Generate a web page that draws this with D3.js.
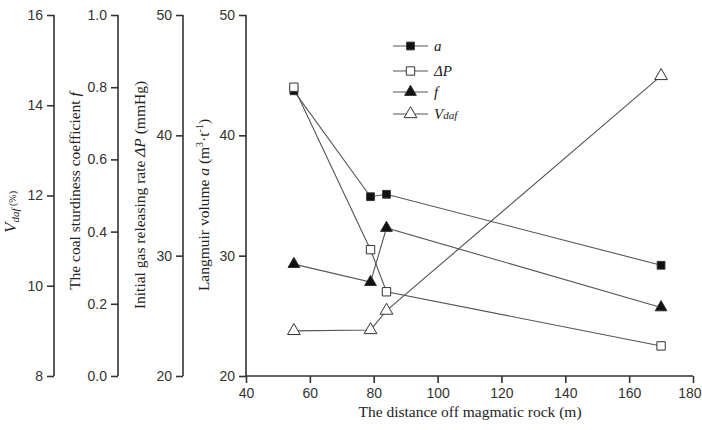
<!DOCTYPE html>
<html><head><meta charset="utf-8">
<script src="https://cdn.jsdelivr.net/npm/d3@7"></script>
<style>body{margin:0;background:#fff}svg{display:block}</style>
</head><body><svg id="c" width="702" height="430"></svg>
<script>
const distance = [55, 79, 84, 170];
const langmuirA = [43.7, 34.9, 35.1, 29.2];
const deltaP = [44.0, 30.5, 27.0, 22.5];
const sturdinessF = [0.31, 0.26, 0.41, 0.19];
const vdaf = [9.0, 9.02, 9.45, 14.65];
const xTicks = [40, 60, 80, 100, 120, 140, 160, 180];

const svg = d3.select("#c");
const yTop = 15, yBot = 376;
const x = d3.scaleLinear().domain([40, 180]).range([246, 693]);
const yA = d3.scaleLinear().domain([20, 50]).range([yBot, yTop]);
const yP = d3.scaleLinear().domain([20, 50]).range([yBot, yTop]);
const yF = d3.scaleLinear().domain([0, 1]).range([yBot, yTop]);
const yV = d3.scaleLinear().domain([8, 16]).range([yBot, yTop]);
const ink = "#333";
const tickFont = "Liberation Sans, Arial, sans-serif";
const serif = "Liberation Serif, Times New Roman, serif";

function yAxis(scale, xPos, major, minor, fmt) {
  const g = svg.append("g").attr("transform", `translate(${xPos},0)`);
  g.call(d3.axisLeft(scale).tickValues(minor).tickSize(3).tickFormat(""));
  g.call(d3.axisLeft(scale).tickValues(major).tickSize(7).tickPadding(4).tickFormat(fmt));
  g.selectAll(".domain").remove();
  g.append("line").attr("y1", yTop).attr("y2", yBot).attr("stroke", ink).attr("stroke-width", 1.6);
  g.selectAll("line").attr("stroke", ink).attr("stroke-width", 1.6);
  g.selectAll("text").attr("font-family", tickFont).attr("font-size", 14).attr("fill", "#333");
  return g;
}
yAxis(yV, 54, [8, 10, 12, 14, 16], [9, 11, 13, 15], d3.format("d"));
yAxis(yF, 118, [0, 0.2, 0.4, 0.6, 0.8, 1.0], [0.1, 0.3, 0.5, 0.7, 0.9], d3.format(".1f"));
yAxis(yP, 183, [20, 30, 40, 50], [25, 35, 45], d3.format("d"));
yAxis(yA, 246, [20, 30, 40, 50], [25, 35, 45], d3.format("d"));

// x axis
const gx = svg.append("g").attr("transform", `translate(0,${yBot})`);
gx.call(d3.axisBottom(x).tickValues(d3.range(50, 180, 20)).tickSize(3).tickFormat(""));
gx.call(d3.axisBottom(x).tickValues(xTicks).tickSize(7).tickPadding(5).tickFormat(d3.format("d")));
gx.selectAll(".domain").remove();
gx.append("line").attr("x1", 246).attr("x2", 693).attr("stroke", ink).attr("stroke-width", 1.6);
gx.selectAll("line").attr("stroke", ink).attr("stroke-width", 1.6);
gx.selectAll("text").attr("font-family", tickFont).attr("font-size", 14).attr("fill", "#333");
gx.selectAll(".tick text").filter(d => d === 180).attr("text-anchor", "end").attr("dx", 8);

// axis titles
function vTitle(xPos, yPos, build) {
  const t = svg.append("text").attr("transform", `translate(${xPos},${yPos}) rotate(-90)`)
    .attr("text-anchor", "middle").attr("font-family", serif).attr("font-size", 15.5).attr("fill", "#222");
  build(t);
}
vTitle(16, 212, t => {
  t.append("tspan").attr("font-style", "italic").attr("font-size", 17).text("V");
  t.append("tspan").attr("font-style", "italic").attr("font-size", 11).attr("dy", 3).text("daf");
  t.append("tspan").attr("font-size", 10).attr("dy", -3).text(" (%)");
});
vTitle(80, 191, t => {
  t.append("tspan").text("The coal sturdiness coefficient ");
  t.append("tspan").attr("font-style", "italic").text("f");
});
vTitle(145, 195, t => {
  t.append("tspan").text("Initial gas releasing rate ");
  t.append("tspan").attr("font-style", "italic").text("ΔP");
  t.append("tspan").text(" (mmHg)");
});
vTitle(209, 205, t => {
  t.append("tspan").text("Langmuir volume ");
  t.append("tspan").attr("font-style", "italic").text("a");
  t.append("tspan").text(" (m");
  t.append("tspan").attr("font-size", 10).attr("dy", -6).text("3");
  t.append("tspan").attr("dy", 6).text("·t");
  t.append("tspan").attr("font-size", 10).attr("dy", -6).text("-1");
  t.append("tspan").attr("dy", 6).text(")");
});
svg.append("text").attr("x", 470).attr("y", 417).attr("text-anchor", "middle")
  .attr("font-family", serif).attr("font-size", 15.5).attr("fill", "#222")
  .text("The distance off magmatic rock (m)");

// series
const series = [
  {name: "a", vals: langmuirA, y: yA, shape: d3.symbolSquare, fill: "#111", size: 60},
  {name: "ΔP", vals: deltaP, y: yP, shape: d3.symbolSquare, fill: "#fff", size: 70},
  {name: "f", vals: sturdinessF, y: yF, shape: d3.symbolTriangle, fill: "#111", size: 60},
  {name: "Vdaf", vals: vdaf, y: yV, shape: d3.symbolTriangle, fill: "#fff", size: 70}
];
const line = s => d3.line().x((d, i) => x(distance[i])).y(d => s.y(d));
series.forEach(s => {
  svg.append("path").datum(s.vals).attr("d", line(s)).attr("fill", "none")
    .attr("stroke", "#555").attr("stroke-width", 1.1);
});
series.forEach(s => {
  svg.selectAll(null).data(s.vals).enter().append("path")
    .attr("d", d3.symbol().type(s.shape).size(s.size))
    .attr("transform", (d, i) => `translate(${x(distance[i])},${s.y(d)})`)
    .attr("fill", s.fill).attr("stroke", "#333").attr("stroke-width", 1);
});

// legend
const legY = [46, 71, 92, 114];
series.forEach((s, i) => {
  const g = svg.append("g").attr("transform", `translate(0,${legY[i]})`);
  g.append("line").attr("x1", 393).attr("x2", 428).attr("stroke", "#555").attr("stroke-width", 1.1);
  g.append("path").attr("d", d3.symbol().type(s.shape).size(s.size)).attr("transform", "translate(410.5,0)")
    .attr("fill", s.fill).attr("stroke", "#333").attr("stroke-width", 1);
  const t = g.append("text").attr("x", 434).attr("y", 5).attr("font-family", serif)
    .attr("font-style", "italic").attr("font-size", 15).attr("fill", "#222");
  if (s.name === "Vdaf") {
    t.append("tspan").text("V");
    t.append("tspan").attr("font-size", 11).text("daf");
  } else t.text(s.name);
});
</script></body></html>
